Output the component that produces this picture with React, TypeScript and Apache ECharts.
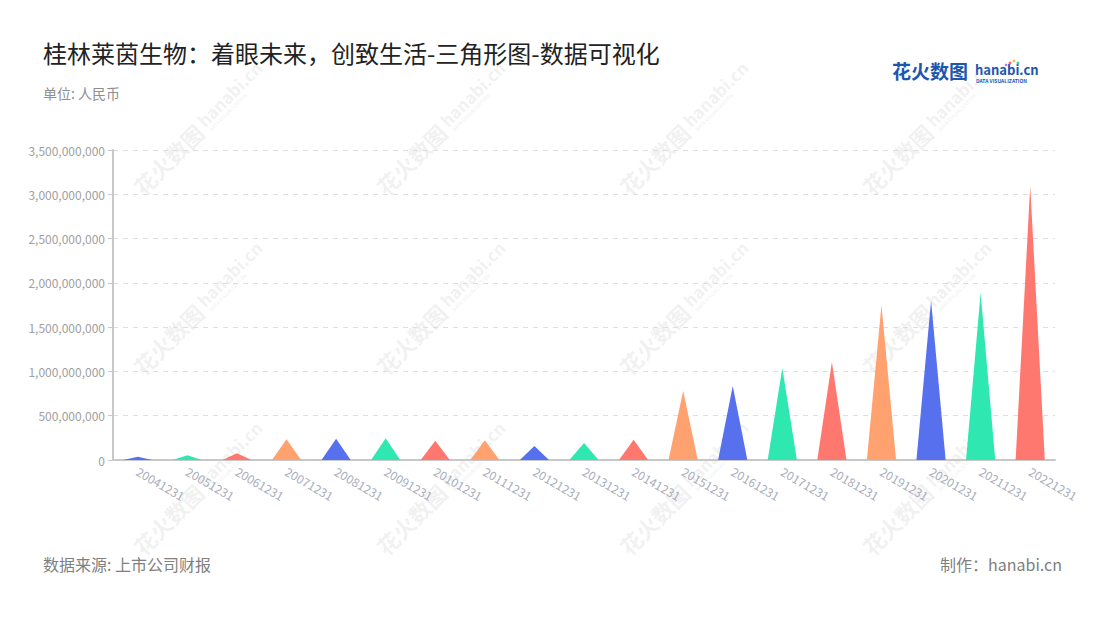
import React, { useEffect, useRef } from "react";
import * as echarts from "echarts";

const categories = [
  "20041231", "20051231", "20061231", "20071231", "20081231", "20091231", "20101231",
  "20111231", "20121231", "20131231", "20141231", "20151231", "20161231", "20171231",
  "20181231", "20191231", "20201231", "20211231", "20221231",
];
const values = [
  38e6, 53e6, 75e6, 233e6, 241e6, 245e6, 218e6,
  222e6, 158e6, 192e6, 229e6, 783e6, 836e6, 1039e6,
  1107e6, 1750e6, 1799e6, 1889e6, 3097e6,
];
const palette = ["#5670ee", "#2fe8b1", "#ff7870", "#ffa26f"];
const titleText = "桂林莱茵生物：着眼未来，创致生活-三角形图-数据可视化";
const unitText = "单位: 人民币";
const sourceText = "数据来源: 上市公司财报";
const makerText = "制作：hanabi.cn";

const FONT = '"Noto Sans CJK SC", "Noto Sans", sans-serif';

function watermark(cx: number, cy: number) {
  const col = "rgba(170,170,170,0.17)";
  return {
    type: "group",
    x: cx,
    y: cy,
    rotation: Math.PI / 4,
    z: 100,
    silent: true,
    children: [
      {
        type: "text",
        x: -68,
        y: 0,
        style: { text: "花火数图", font: 'bold 22px ' + FONT, fill: col, textVerticalAlign: "middle" },
      },
      {
        type: "text",
        x: 24,
        y: -3,
        style: { text: "hanabi.cn", font: 'bold 17px ' + FONT, fill: col, textVerticalAlign: "middle" },
      },
      {
        type: "text",
        x: 26,
        y: 9,
        style: { text: "DATA VISUALIZATION", font: 'bold 5px ' + FONT, fill: col, textVerticalAlign: "middle" },
      },
    ],
  };
}

export default function App() {
  const ref = useRef<HTMLDivElement>(null);
  useEffect(() => {
    if (!ref.current) return;
    const chart = echarts.init(ref.current, undefined, { renderer: "svg" });
    const wm: any[] = [];
    const cols = [185, 428, 671, 914];
    const rows = [142, 322, 502];
    rows.forEach((y) => cols.forEach((x) => wm.push(watermark(x, y))));
    chart.setOption({
      animation: false,
      backgroundColor: "#ffffff",
      grid: { left: 113, right: 45, top: 150, height: 310 },
      xAxis: {
        type: "category",
        data: categories,
        axisLine: { lineStyle: { color: "#c8c8c8", width: 2 } },
        axisTick: { alignWithLabel: true, length: 5, lineStyle: { color: "#c8c8c8" } },
        axisLabel: {
          rotate: -30,
          color: "#a9adbb",
          fontSize: 12,
          fontFamily: FONT,
          margin: 10,
          interval: 0,
        },
      },
      yAxis: {
        type: "value",
        min: 0,
        max: 3500000000,
        interval: 500000000,
        axisLine: { show: true, lineStyle: { color: "#c8c8c8", width: 2 } },
        axisTick: { show: true, length: 5, lineStyle: { color: "#c8c8c8" } },
        axisLabel: {
          color: "#a0a0a0",
          fontSize: 12,
          fontFamily: FONT,
          margin: 8,
          formatter: (v: number) => v.toLocaleString("en-US"),
        },
        splitLine: { lineStyle: { color: "#dedede", type: [5, 5] } },
      },
      series: [
        {
          type: "pictorialBar",
          symbol: "path://M0,10 L5,0 L10,10 Z",
          symbolSize: [29, "100%"],
          symbolPosition: "start",
          data: values.map((v, i) => ({
            value: v,
            itemStyle: { color: palette[i % palette.length] },
          })),
        },
      ],
      graphic: [
        {
          type: "text",
          left: 43,
          top: 40,
          style: { text: titleText, font: '24px ' + FONT, fill: "#222222" },
        },
        {
          type: "text",
          left: 43,
          top: 86,
          style: { text: unitText, font: '14px ' + FONT, fill: "#8f8f8f" },
        },
        {
          type: "text",
          left: 43,
          top: 556,
          style: { text: sourceText, font: '16px ' + FONT, fill: "#808080" },
        },
        {
          type: "text",
          right: 38,
          top: 556,
          style: { text: makerText, font: '16px ' + FONT, fill: "#808080" },
        },
        {
          type: "text",
          left: 892,
          top: 61,
          style: { text: "花火数图", font: 'bold 19px ' + FONT, fill: "#1c56b0" },
        },
        {
          type: "text",
          left: 975,
          top: 63,
          style: { text: "hanabi.cn", font: 'bold 13px ' + FONT, fill: "#1c56b0" },
        },
        {
          type: "text",
          left: 976,
          top: 78,
          style: { text: "DATA VISUALIZATION", font: 'bold 5px ' + FONT, fill: "#1c56b0" },
        },
        { type: "circle", shape: { cx: 1010, cy: 63, r: 1.5 }, style: { fill: "#ff6b6b" } },
        { type: "circle", shape: { cx: 1014, cy: 61, r: 1.5 }, style: { fill: "#ffc53d" } },
        { type: "circle", shape: { cx: 1018, cy: 63, r: 1.5 }, style: { fill: "#36cfc9" } },
        { type: "circle", shape: { cx: 1006, cy: 65, r: 1.3 }, style: { fill: "#b37feb" } },
        ...wm,
      ],
    });
    return () => chart.dispose();
  }, []);
  return (
    <div
      ref={ref}
      style={{ position: "fixed", left: 0, top: 0, width: 1100, height: 620, background: "#fff" }}
    />
  );
}
